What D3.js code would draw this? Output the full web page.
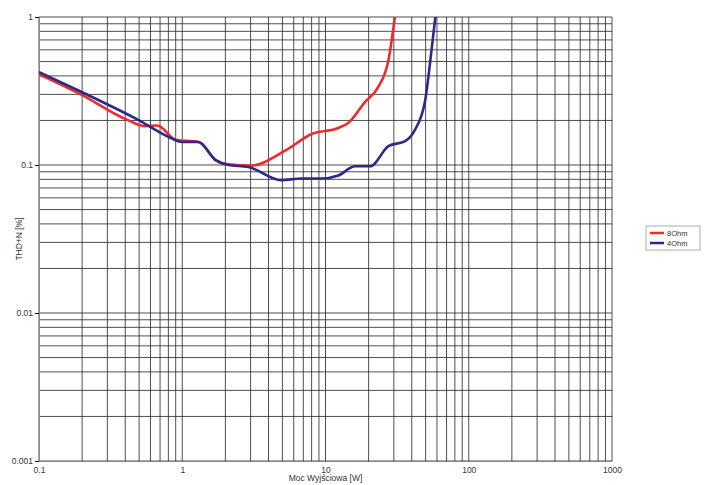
<!DOCTYPE html>
<html><head><meta charset="utf-8">
<script src="https://cdn.jsdelivr.net/npm/d3@7"></script>
<style>body{margin:0;background:#fff}text{font-family:"Liberation Sans",Arial,sans-serif}</style>
</head><body><div class="chart"></div>
<script>
const red8 = [[0.1,0.41],[0.2,0.297],[0.4,0.205],[0.55,0.183],[0.67,0.185],[0.9,0.148],[1.3,0.143],[1.71,0.108],[2.1,0.101],[3.0,0.099],[5.3,0.126],[8.0,0.162],[12.3,0.178],[14.4,0.192],[18.9,0.267],[23.3,0.336],[27.5,0.51],[30.7,1.05]];
const blue4 = [[0.1,0.425],[0.2,0.31],[0.5,0.2],[0.8,0.155],[1,0.143],[1.3,0.143],[1.71,0.108],[2.1,0.1],[2.9,0.097],[4.9,0.079],[6.8,0.081],[9.3,0.081],[12.3,0.085],[16.1,0.098],[20.5,0.098],[27.5,0.134],[36,0.145],[42,0.172],[49.7,0.275],[55,0.6],[58.8,1.05]];
const xTicks = [0.1,1,10,100,1000];
const yTicks = [0.001,0.01,0.1,1];
const series = [{name:"8Ohm",color:"#ee2a2a",data:red8},{name:"4Ohm",color:"#2a2a8c",data:blue4}];

const W=705,H=485,m={l:39,r:93,t:17,b:24};
const svg=d3.select(".chart").append("svg").attr("width",W).attr("height",H);
const x=d3.scaleLog().domain([0.1,1000]).range([m.l,W-m.r]);
const y=d3.scaleLog().domain([0.001,1]).range([H-m.b,m.t]);

const g=svg.append("g");
const minor=[];
for(let e=-1;e<3;e++)for(let k=1;k<10;k++)minor.push(k*Math.pow(10,e));
minor.push(1000);
g.selectAll(".vx").data(minor).join("line").attr("x1",d=>x(d)).attr("x2",d=>x(d))
 .attr("y1",y(1)).attr("y2",y(0.001)).attr("stroke","#222").attr("stroke-width",0.8);
const minY=[];
for(let e=-3;e<0;e++)for(let k=1;k<10;k++)minY.push(k*Math.pow(10,e));
minY.push(1);
g.selectAll(".hy").data(minY).join("line").attr("y1",d=>y(d)).attr("y2",d=>y(d))
 .attr("x1",x(0.1)).attr("x2",x(1000)).attr("stroke","#222").attr("stroke-width",0.8);

svg.append("g").attr("transform",`translate(0,${y(0.001)})`)
 .call(d3.axisBottom(x).tickValues(xTicks).tickFormat(d3.format("~g")).tickSize(0).tickPadding(6))
 .call(a=>a.select(".domain").attr("stroke","#888")).selectAll("text").attr("font-size",8.5).attr("fill","#333");
svg.append("g").attr("transform",`translate(${x(0.1)},0)`)
 .call(d3.axisLeft(y).tickValues(yTicks).tickFormat(d3.format("~g")).tickSize(4).tickPadding(2))
 .call(a=>a.select(".domain").attr("stroke","#888")).selectAll("text").attr("font-size",8.5).attr("fill","#333");

svg.append("defs").append("clipPath").attr("id","c").append("rect")
 .attr("x",x(0.1)).attr("y",y(1)).attr("width",x(1000)-x(0.1)).attr("height",y(0.001)-y(1));
const line=d3.line().x(d=>x(d[0])).y(d=>y(d[1])).curve(d3.curveMonotoneX);
svg.append("g").attr("clip-path","url(#c)").selectAll("path").data(series).join("path")
 .attr("d",s=>line(s.data)).attr("fill","none").attr("stroke",s=>s.color).attr("stroke-width",2.6);

svg.append("text").attr("x",(x(0.1)+x(1000))/2).attr("y",H-4).attr("text-anchor","middle").attr("font-size",8.5).attr("fill","#333").text("Moc Wyjściowa [W]");
svg.append("text").attr("transform",`translate(22,${(y(1)+y(0.001))/2}) rotate(-90)`).attr("text-anchor","middle").attr("font-size",8.5).attr("fill","#333").text("THD+N [%]");

const lg=svg.append("g").attr("transform","translate(646,226)");
lg.append("rect").attr("width",54).attr("height",24).attr("fill","#fff").attr("stroke","#777").attr("stroke-width",0.6);
series.forEach((s,i)=>{
  lg.append("line").attr("x1",4).attr("x2",18).attr("y1",7+i*10).attr("y2",7+i*10).attr("stroke",s.color).attr("stroke-width",2.5);
  lg.append("text").attr("x",21).attr("y",10+i*10).attr("font-size",7.5).attr("fill","#333").text(s.name);
});
</script></body></html>
